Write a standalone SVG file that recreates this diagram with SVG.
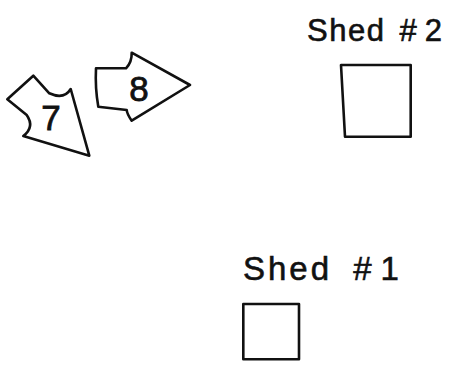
<svg xmlns="http://www.w3.org/2000/svg" width="460" height="371" viewBox="0 0 460 371">
<style>
.ln{fill:#fff;stroke:#111;stroke-width:2.6;stroke-linejoin:round;stroke-linecap:round}
.lbl{font-family:"Liberation Sans","DejaVu Sans",sans-serif;fill:#111;stroke:#111;stroke-width:0.6}
.num{font-family:"Liberation Sans","DejaVu Sans",sans-serif;font-size:35px;fill:#111;stroke:#111;stroke-width:0.8;text-anchor:middle}
</style>
<rect width="460" height="371" fill="#fff"/>
<g id="arrow7">
<path class="ln" d="M33.3,75.7 L49.3,93.3 Q64,100 70.7,89 L89.3,155.7 L23.3,136 Q35,127 26.7,115 L7.3,99.3 Z"/>
<text class="num" x="51" y="130">7</text>
</g>
<g id="arrow8">
<path class="ln" d="M96,68.3 L126,68.3 Q132,62 131.7,52.7 L190,85 L131.7,120.7 Q127,114 126.7,110 L98.3,106.7 Q95,88 96,68.3 Z"/>
<text class="num" x="139" y="101">8</text>
</g>
<g id="shed2">
<text class="lbl" x="307" y="41" font-size="31" letter-spacing="1.5" word-spacing="4">Shed <tspan letter-spacing="8">#2</tspan></text>
<path class="ln" d="M341,65 L410.7,65 L410.7,136.7 L345,136.7 Z"/>
</g>
<g id="shed1">
<text class="lbl" x="243" y="280" font-size="33" letter-spacing="3" word-spacing="9">Shed <tspan letter-spacing="9">#1</tspan></text>
<path class="ln" d="M243.3,304 L299,304 L299,359.3 L243.3,359.3 Z"/>
</g>
</svg>
